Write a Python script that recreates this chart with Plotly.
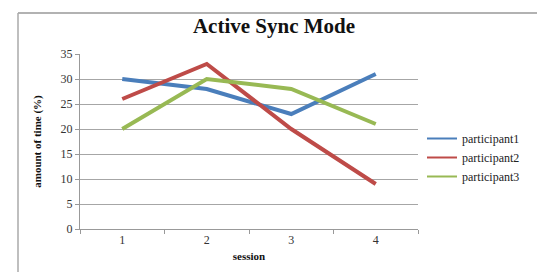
import plotly.graph_objects as go

sessions = ["1", "2", "3", "4"]
participant1 = [30, 28, 23, 31]
participant2 = [26, 33, 20, 9]
participant3 = [20, 30, 28, 21]
series_names = ["participant1", "participant2", "participant3"]
colors = ["#4a7ebb", "#be4b48", "#98b954"]
y_ticks = [0, 5, 10, 15, 20, 25, 30, 35]

W, H = 545, 272
L, R, T, B = 72, 135, 46, 51
pw, ph = W - L - R, H - T - B

def px2x(p):
    return (p - L) / pw

def px2y(p):
    return (H - B - p) / ph

fig = go.Figure()
for name, vals, c in zip(series_names, [participant1, participant2, participant3], colors):
    fig.add_trace(go.Scatter(x=sessions, y=vals, name=name, mode="lines",
                             line=dict(color=c, width=4), showlegend=False))
# legend entries with thinner line samples
for name, c in zip(series_names, colors):
    fig.add_trace(go.Scatter(x=[None], y=[None], name=name, mode="lines",
                             line=dict(color=c, width=2), showlegend=True))

serif = "Liberation Serif, Times New Roman, serif"
fig.update_layout(
    width=W, height=H,
    margin=dict(l=L, r=R, t=T, b=B),
    paper_bgcolor="white", plot_bgcolor="white",
    title=dict(text="<b>Active Sync Mode</b>", x=px2x(266), xref="paper", xanchor="center",
               y=1 - 18 / H, yanchor="middle",
               font=dict(family=serif, size=21, color="#111")),
    font=dict(family=serif, size=12, color="#333"),
    xaxis=dict(type="category", tickson="boundaries", range=[-0.5, 3.5],
               ticks="outside", ticklen=4,
               tickcolor="#999", showline=True, linecolor="#999", linewidth=1,
               showgrid=False, zeroline=False,
               tickfont=dict(family=serif, size=12, color="#333"),
               title=dict(text="<b>session</b>", standoff=5,
                          font=dict(family=serif, size=11, color="#111"))),
    yaxis=dict(range=[0, 35], tickvals=y_ticks, ticks="outside", ticklen=4,
               tickcolor="#999", showline=True, linecolor="#999", linewidth=1,
               showgrid=True, gridcolor="#a6a6a6", gridwidth=1, zeroline=False,
               tickfont=dict(family=serif, size=12, color="#333"),
               title=dict(text="<b>amount of time (%)</b>", standoff=16,
                          font=dict(family=serif, size=11, color="#111"))),
    legend=dict(x=px2x(414), y=px2y(116), xanchor="left", yanchor="top",
                font=dict(family=serif, size=12, color="#222"),
                bgcolor="rgba(0,0,0,0)", tracegroupgap=0, itemwidth=30),
    showlegend=True,
)

# outer chart frame
fig.add_shape(type="line", xref="paper", yref="paper",
              x0=px2x(10), x1=px2x(544), y0=px2y(5), y1=px2y(5),
              line=dict(color="#999", width=1.5))
fig.add_shape(type="line", xref="paper", yref="paper",
              x0=px2x(10), x1=px2x(10), y0=px2y(5), y1=px2y(280),
              line=dict(color="#aaa", width=1.5))
fig.add_shape(type="line", xref="paper", yref="paper",
              x0=px2x(544), x1=px2x(544), y0=px2y(5), y1=px2y(280),
              line=dict(color="#ddd", width=1.5))

fig.write_html("out.html")
